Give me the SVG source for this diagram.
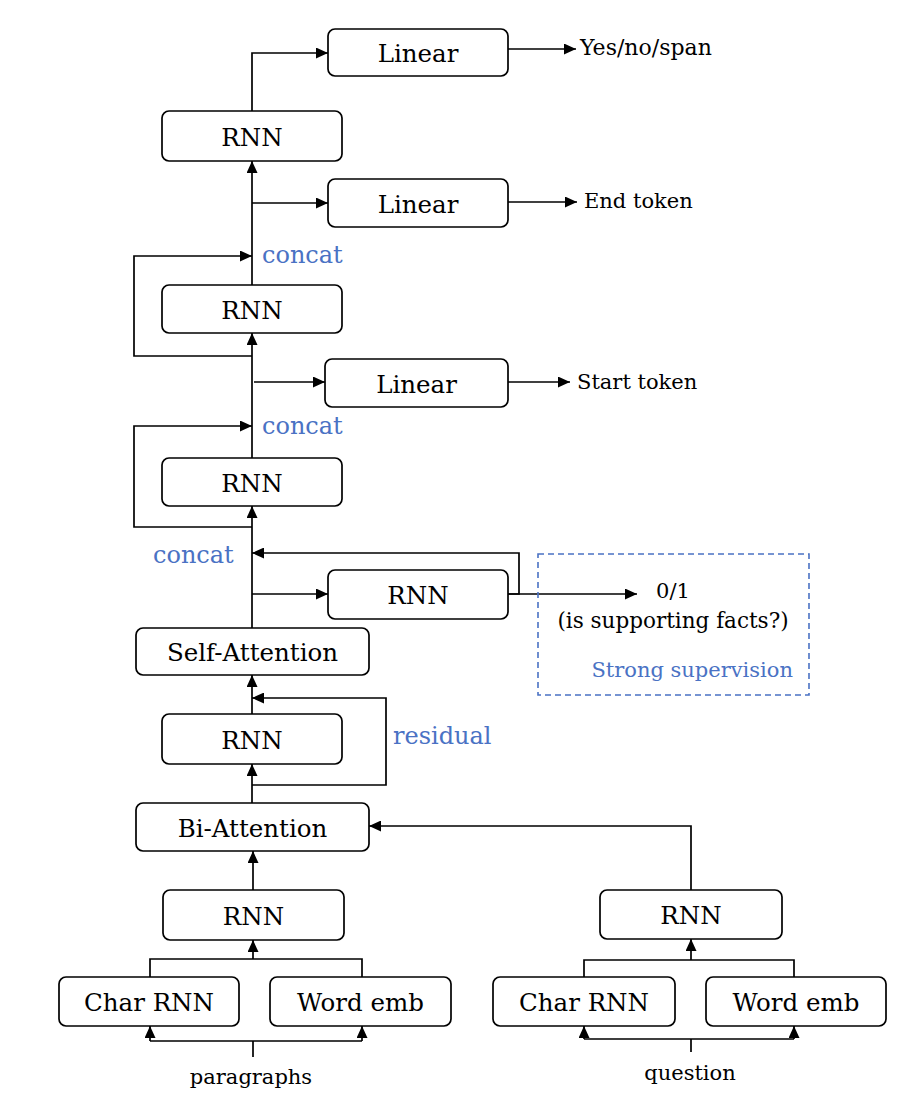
<svg xmlns="http://www.w3.org/2000/svg" width="924" height="1108" viewBox="0 0 924 1108">
<defs>
<marker id="ah" markerUnits="userSpaceOnUse" markerWidth="13" markerHeight="11" refX="12" refY="5.5" orient="auto">
<path d="M0,0 L12,5.5 L0,11 Z" fill="#000"/>
</marker>
<style>
.box{fill:#fff;stroke:#000;stroke-width:1.7}
.t{font-family:"DejaVu Serif","Liberation Serif",serif;font-size:24.5px;text-anchor:middle;fill:#000}
.s{font-family:"DejaVu Serif","Liberation Serif",serif;font-size:21px;fill:#000}
.b{font-family:"DejaVu Serif","Liberation Serif",serif;font-size:24px;fill:#4a72c4}
.c{fill:none;stroke:#000;stroke-width:1.7}
.a{fill:none;stroke:#000;stroke-width:1.7;marker-end:url(#ah)}
</style>
</defs>
<rect width="924" height="1108" fill="#fff"/>
<g id="connectors">
<path class="a" d="M252,111 V53 H328"/>
<path class="a" d="M508,49 H576"/>
<path class="a" d="M252,285 V161"/>
<path class="a" d="M252,203 H328"/>
<path class="a" d="M508,202 H577"/>
<path class="a" d="M252,356 H134 V256 H252"/>
<path class="a" d="M252,458 V333"/>
<path class="a" d="M254,382 H325"/>
<path class="a" d="M508,382 H570"/>
<path class="a" d="M252,527 H134 V426 H252"/>
<path class="a" d="M252,628 V506"/>
<path class="a" d="M252,594 H328"/>
<path class="a" d="M508,594 H637"/>
<path class="a" d="M508,594 H519 V553 H252"/>
<path class="a" d="M252,714 V675"/>
<path class="a" d="M252,785 H386 V698 H252"/>
<path class="a" d="M252,803 V764"/>
<path class="a" d="M253,890 V851"/>
<path class="c" d="M150,977 V959 H362 V977"/>
<path class="a" d="M253,959 V940"/>
<path class="c" d="M253,1057 V1041 M150,1041 H362"/>
<path class="a" d="M150,1041 V1026"/>
<path class="a" d="M362,1041 V1026"/>
<path class="c" d="M584,977 V960 H794 V977"/>
<path class="a" d="M691,960 V939"/>
<path class="a" d="M691,890 V826 H369"/>
<path class="c" d="M691,1052 V1039 M584,1039 H794"/>
<path class="a" d="M584,1039 V1026"/>
<path class="a" d="M794,1039 V1026"/>
</g>
<g id="linear-top"><rect class="box" x="328" y="29" width="180" height="47" rx="7"/><text class="t" x="418" y="62">Linear</text></g>
<g id="out-yesno"><text class="s" x="580" y="55" style="font-size:22px">Yes/no/span</text></g>
<g id="rnn-top"><rect class="box" x="162" y="111" width="180" height="50" rx="7"/><text class="t" x="252" y="145.5">RNN</text></g>
<g id="linear-end"><rect class="box" x="328" y="179" width="180" height="48" rx="7"/><text class="t" x="418" y="212.5">Linear</text></g>
<g id="out-end"><text class="s" x="584" y="208">End token</text></g>
<g id="label-concat1"><text class="b" x="262" y="263">concat</text></g>
<g id="rnn-2"><rect class="box" x="162" y="285" width="180" height="48" rx="7"/><text class="t" x="252" y="318.5">RNN</text></g>
<g id="linear-start"><rect class="box" x="325" y="359" width="183" height="48" rx="7"/><text class="t" x="416.5" y="392.5">Linear</text></g>
<g id="out-start"><text class="s" x="577" y="389">Start token</text></g>
<g id="label-concat2"><text class="b" x="262" y="434">concat</text></g>
<g id="rnn-3"><rect class="box" x="162" y="458" width="180" height="48" rx="7"/><text class="t" x="252" y="491.5">RNN</text></g>
<g id="label-concat3"><text class="b" x="153" y="563">concat</text></g>
<g id="rnn-side"><rect class="box" x="328" y="570" width="180" height="49" rx="7"/><text class="t" x="418" y="604">RNN</text></g>
<g id="strong-supervision">
<rect x="538" y="554" width="271" height="141" fill="none" stroke="#4a72c4" stroke-width="1.6" stroke-dasharray="6,4"/>
<text class="s" x="673" y="598" text-anchor="middle">0/1</text>
<text class="s" x="673" y="628" text-anchor="middle" style="font-size:21.5px">(is supporting facts?)</text>
<text class="s" x="793" y="677" text-anchor="end" style="fill:#4a72c4">Strong supervision</text>
</g>
<g id="self-attention"><rect class="box" x="136" y="628" width="233" height="47" rx="7"/><text class="t" x="252.5" y="660.5">Self-Attention</text></g>
<g id="rnn-res"><rect class="box" x="162" y="714" width="180" height="50" rx="7"/><text class="t" x="252" y="748.5">RNN</text></g>
<g id="label-residual"><text class="b" x="393" y="744">residual</text></g>
<g id="bi-attention"><rect class="box" x="136" y="803" width="233" height="48" rx="7"/><text class="t" x="252.5" y="836.5">Bi-Attention</text></g>
<g id="rnn-para"><rect class="box" x="163" y="890" width="181" height="50" rx="7"/><text class="t" x="253.5" y="924.5">RNN</text></g>
<g id="char-para"><rect class="box" x="59" y="977" width="180" height="49" rx="7"/><text class="t" x="149" y="1010.5">Char RNN</text></g>
<g id="word-para"><rect class="box" x="270" y="977" width="181" height="49" rx="7"/><text class="t" x="360.5" y="1010.5">Word emb</text></g>
<g id="in-para"><text class="s" x="251" y="1084" text-anchor="middle">paragraphs</text></g>
<g id="rnn-q"><rect class="box" x="600" y="890" width="182" height="49" rx="7"/><text class="t" x="691" y="924">RNN</text></g>
<g id="char-q"><rect class="box" x="493" y="977" width="182" height="49" rx="7"/><text class="t" x="584" y="1011">Char RNN</text></g>
<g id="word-q"><rect class="box" x="706" y="977" width="180" height="49" rx="7"/><text class="t" x="796" y="1011">Word emb</text></g>
<g id="in-q"><text class="s" x="690" y="1080" text-anchor="middle">question</text></g>
</svg>
